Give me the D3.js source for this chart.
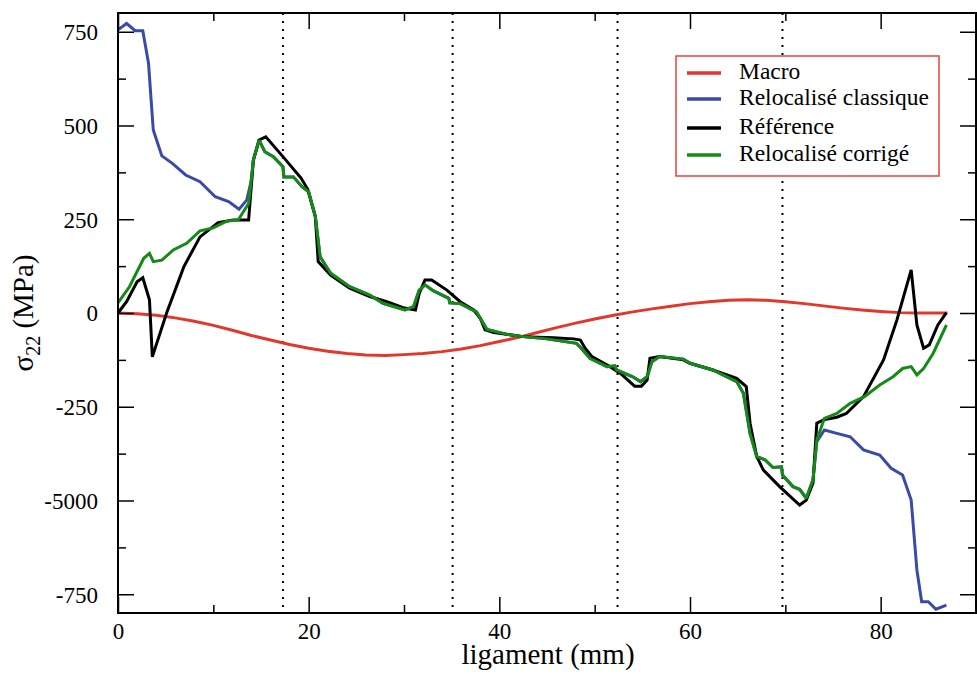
<!DOCTYPE html>
<html>
<head>
<meta charset="utf-8">
<script src="https://cdn.jsdelivr.net/npm/d3@7"></script>
<style>
  html, body { margin: 0; padding: 0; background: #fff; }
  svg { display: block; }
</style>
</head>
<body>
<svg id="chart" width="977" height="674"></svg>
<script>
// σ22 stress profile along the ligament (mm), four computations.

const seriesNames = ["Macro", "Relocalisé classique", "Référence", "Relocalisé corrigé"];
const seriesColors = ["#e2382c", "#3a4aa8", "#000000", "#168a16"];

const macro = [
  [0,0],[2,-2],[4,-6],[6,-13],[8,-22],[10,-33],[12,-46],[14,-60],[16,-72],[18,-84],
  [20,-94],[22,-102],[24,-108],[26,-112],[28,-113],[30,-111],[32,-108],[34,-103],[36,-96],[38,-87],
  [40,-76],[42,-65],[44,-52],[46,-39],[48,-27],[50,-16],[52,-6],[54,3],[56,11],[58,18],
  [60,25],[62,30],[64,34],[66,35],[68,34],[70,30],[72,25],[74,19],[76,13],[78,8],
  [80,4],[82,1],[84,0],[86,0],[87,0]
];

const classique = [
  [0,755],[0.9,772],[1.8,753],[2.6,753],[3.2,666],[3.7,488],[4.6,419],[5.7,399],[7.1,368],[8.6,350],
  [10.2,310],[11.6,297],[12.7,277],[13.5,301],[14.0,355],[14.2,408],[14.8,461],[15.4,430],[16.3,417],[17.3,390],
  [17.4,363],[18.4,363],[19.3,337],[20.0,323],[20.7,257],[21.2,150],[22.3,106],[24.3,70],[26.4,48],[27.8,26],
  [30.1,8],[31.0,17],[31.6,61],[32.2,75],[33.1,59],[34.7,39],[34.8,27],[35.9,25],[37.6,3],[38.3,-27],
  [38.7,-44],[40.8,-57],[42.5,-63],[45.0,-69],[48.1,-81],[48.6,-94],[49.5,-121],[51.3,-143],[52.1,-141],[52.3,-152],
  [54.0,-170],[54.8,-183],[55.5,-170],[56.0,-130],[56.8,-116],[59.3,-123],[60.0,-134],[62.4,-152],[64.9,-183],[65.6,-214],
  [66.3,-321],[67.0,-383],[67.9,-392],[68.7,-412],[69.6,-410],[69.7,-432],[70.8,-463],[71.5,-470],[72.2,-494],[72.9,-445],
  [73.3,-343],[74.1,-312],[75.4,-321],[76.8,-330],[78.2,-365],[79.9,-379],[81.1,-414],[82.3,-432],[83.2,-499],[83.8,-685],
  [84.3,-770],[85.0,-770],[85.8,-790],[86.9,-779]
];

const reference = [
  [0,0],[0.9,30],[2.0,83],[2.6,94],[3.3,35],[3.6,-117],[5.1,0],[6.9,123],[8.6,203],[10.5,241],
  [12.1,248],[13.7,248],[14.2,408],[14.8,461],[15.5,470],[17.3,417],[19.2,360],[19.9,330],[20.7,257],[21.0,137],
  [22.3,101],[24.3,66],[26.4,44],[28.2,30],[29.9,14],[31.2,8],[31.6,52],[32.2,88],[32.9,88],[34.5,61],
  [35.9,30],[37.3,8],[38.0,-14],[38.5,-45],[39.4,-52],[42.5,-63],[45.7,-66],[47.8,-69],[48.5,-72],[49.0,-94],
  [49.7,-116],[51.6,-143],[52.7,-161],[54.2,-195],[54.9,-195],[55.5,-179],[55.8,-121],[56.8,-116],[59.3,-125],[60.0,-134],
  [62.4,-152],[64.9,-174],[65.9,-196],[66.3,-294],[67.0,-383],[67.7,-419],[69.4,-463],[71.5,-512],[72.2,-499],[72.9,-454],
  [73.3,-294],[74.0,-285],[75.4,-278],[76.4,-268],[78.2,-223],[80.3,-125],[81.7,-19],[83.2,115],[83.8,-32],[84.5,-94],
  [85.1,-85],[86.0,-32],[86.9,1]
];

const corrige = [
  [0,27],[1.2,70],[2.7,146],[3.3,159],[3.7,137],[4.6,141],[5.8,168],[7.2,186],[8.6,219],[10.0,227],
  [11.4,245],[12.6,248],[13.7,292],[14.2,408],[14.8,461],[15.4,430],[16.3,417],[17.3,390],[17.4,363],[18.4,363],
  [19.3,337],[20.0,323],[20.7,257],[21.2,150],[22.3,106],[24.3,70],[26.4,48],[27.8,26],[30.1,8],[31.0,17],
  [31.6,61],[32.2,75],[33.1,59],[34.7,39],[34.8,27],[35.9,25],[37.6,3],[38.3,-27],[38.7,-44],[40.8,-57],
  [42.5,-63],[45.0,-69],[48.1,-81],[48.6,-94],[49.5,-121],[51.3,-143],[52.1,-141],[52.3,-152],[54.0,-170],[54.8,-183],
  [55.5,-170],[56.0,-130],[56.8,-116],[59.3,-123],[60.0,-134],[62.4,-152],[64.9,-183],[65.6,-214],[66.3,-321],[67.0,-383],
  [67.9,-392],[68.7,-412],[69.6,-410],[69.7,-432],[70.8,-463],[71.5,-470],[72.2,-494],[72.9,-445],[73.3,-339],[74.1,-281],
  [75.4,-268],[76.8,-241],[78.3,-223],[79.9,-192],[81.3,-170],[82.3,-148],[83.2,-143],[83.8,-165],[84.5,-148],[85.5,-108],
  [86.9,-32]
];

// sub-domain boundaries along the ligament
const boundaries = [17.3, 35.1, 52.4, 69.7];

const xMajorTicks = [0, 20, 40, 60, 80];
const xMinorTicks = [10, 30, 50, 70];
const yMajorTicks = [-750, -500, -250, 0, 250, 500, 750];
const yTickLabels = ["-750", "-5000", "-250", "0", "250", "500", "750"];
const yMinorTicks = [-625, -375, -125, 125, 375, 625];

const FONT = "'Liberation Serif', 'Times New Roman', Times, serif";

const svg = d3.select("#chart").style("font-family", FONT);
const plot = { left: 118, top: 13, right: 976, bottom: 613 };

const x = d3.scaleLinear().domain([0, 90]).range([plot.left, plot.right]);
const y = d3.scaleLinear().domain([-800, 800]).range([plot.bottom, plot.top]);

const seriesData = [macro, classique, reference, corrige];

// dotted boundaries
svg.append("g").selectAll("line").data(boundaries).join("line")
  .attr("x1", d => x(d)).attr("x2", d => x(d))
  .attr("y1", plot.top).attr("y2", plot.bottom)
  .attr("stroke", "#000").attr("stroke-width", 2)
  .attr("stroke-dasharray", "2,6");

// curves
const line = d3.line().x(d => x(d[0])).y(d => y(d[1]));
svg.append("g").selectAll("path").data(seriesData).join("path")
  .attr("d", line)
  .attr("fill", "none")
  .attr("stroke", (d, i) => seriesColors[i])
  .attr("stroke-width", 3)
  .attr("stroke-linejoin", "miter")
  .attr("stroke-miterlimit", 2);

// axes with inward ticks on all four sides
const H = plot.bottom - plot.top, W = plot.right - plot.left;
function addAxis(gen, transform) {
  const g = svg.append("g").attr("transform", transform).call(gen);
  g.select(".domain").remove();
  g.selectAll(".tick line").attr("stroke", "#000").attr("stroke-width", 1.5);
  return g;
}
const tickFont = 23;

const gxb = addAxis(d3.axisBottom(x).tickValues(xMajorTicks).tickSize(-16).tickFormat(d3.format("d")),
  `translate(0,${plot.bottom})`);
addAxis(d3.axisBottom(x).tickValues(xMinorTicks).tickSize(-8).tickFormat(""), `translate(0,${plot.bottom})`);
addAxis(d3.axisTop(x).tickValues(xMajorTicks).tickSize(-16).tickFormat(""), `translate(0,${plot.top})`);
addAxis(d3.axisTop(x).tickValues(xMinorTicks).tickSize(-8).tickFormat(""), `translate(0,${plot.top})`);
gxb.selectAll("text").attr("y", 26).attr("dy", null);

const gyl = addAxis(d3.axisLeft(y).tickValues(yMajorTicks).tickSize(-16)
  .tickFormat((d, i) => yTickLabels[i]), `translate(${plot.left},0)`);
addAxis(d3.axisLeft(y).tickValues(yMinorTicks).tickSize(-8).tickFormat(""), `translate(${plot.left},0)`);
addAxis(d3.axisRight(y).tickValues(yMajorTicks).tickSize(-16).tickFormat(""), `translate(${plot.right},0)`);
addAxis(d3.axisRight(y).tickValues(yMinorTicks).tickSize(-8).tickFormat(""), `translate(${plot.right},0)`);
gyl.selectAll("text").attr("x", -20).attr("dy", "0.34em");

svg.selectAll(".tick text")
  .style("font-family", FONT).style("font-size", tickFont + "px").attr("fill", "#000");

// frame
svg.append("rect")
  .attr("x", plot.left).attr("y", plot.top).attr("width", W).attr("height", H)
  .attr("fill", "none").attr("stroke", "#000").attr("stroke-width", 2);

// axis titles
svg.append("text")
  .attr("x", (plot.left + plot.right) / 2 + 1).attr("y", 664)
  .attr("text-anchor", "middle")
  .style("font-family", FONT).style("font-size", "29px")
  .text("ligament (mm)");

const yt = svg.append("text")
  .attr("transform", `translate(33,${(plot.top + plot.bottom) / 2}) rotate(-90)`)
  .attr("text-anchor", "middle")
  .style("font-family", FONT).style("font-size", "29px");
yt.append("tspan").text("σ");
yt.append("tspan").style("font-size", "20px").attr("dy", 7).text("22");
yt.append("tspan").attr("dy", -7).text(" (MPa)");

// legend
const legend = svg.append("g");
legend.append("rect")
  .attr("x", 676).attr("y", 56).attr("width", 263).attr("height", 120)
  .attr("fill", "#fff").attr("stroke", "#e0463e").attr("stroke-width", 1.5);
const rowY = [79, 105, 134, 161];
const rows = legend.selectAll("g.row").data(seriesNames).join("g").attr("class", "row")
  .attr("transform", (d, i) => `translate(0,${rowY[i]})`);
rows.append("line")
  .attr("x1", 687).attr("x2", 721).attr("y1", -6).attr("y2", -6)
  .attr("stroke", (d, i) => seriesColors[i]).attr("stroke-width", 3.5);
rows.append("text")
  .attr("x", 739).attr("y", 0)
  .style("font-family", FONT).style("font-size", "23.5px")
  .text(d => d);
</script>
</body>
</html>
